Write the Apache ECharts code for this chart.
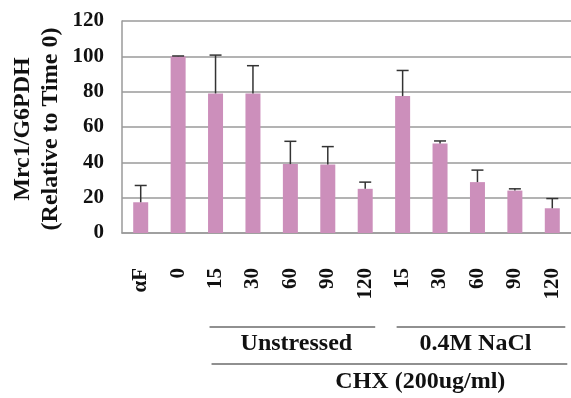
<!DOCTYPE html>
<html><head><meta charset="utf-8">
<script src="https://cdn.jsdelivr.net/npm/echarts@6/dist/echarts.min.js"></script>
<style>html,body{margin:0;padding:0;background:#fff}#c{width:571px;height:398px}</style>
</head><body><div id="c"></div>
<script>
var categories = ['αF','0','15','30','60','90','120','15','30','60','90','120'];
var means = [17.4, 100, 79, 79, 39, 38.8, 25, 77.5, 50.6, 28.8, 24, 14];
var errTops = [26.9, 100.2, 100.7, 94.7, 51.9, 48.9, 28.8, 92, 52.1, 35.6, 25, 19.5];
var yTicks = {min:0, max:120, interval:20};

var font = '"Liberation Serif", "Times New Roman", serif';
var chart = echarts.init(document.getElementById('c'));
var errData = means.map(function(m,i){ return [i, m, errTops[i]]; });

chart.setOption({
  animation:false,
  grid:{left:122, top:21, width:452, height:212},
  xAxis:{type:'category', data:categories,
    axisLine:{show:true, lineStyle:{color:'#9a9a9a', width:1.5}},
    axisTick:{show:false},
    axisLabel:{rotate:90, margin:35, fontFamily:font, fontWeight:'bold', fontSize:21, color:'#111', interval:0}
  },
  yAxis:{type:'value', min:yTicks.min, max:yTicks.max, interval:yTicks.interval,
    axisLine:{show:true, lineStyle:{color:'#9a9a9a', width:1.5}},
    axisTick:{show:false},
    splitLine:{lineStyle:{color:'#9a9a9a', width:1.5}},
    axisLabel:{margin:18, fontFamily:font, fontWeight:'bold', fontSize:21, color:'#111'}
  },
  series:[
    {type:'bar', data:means, barWidth:15, itemStyle:{color:'#cc8fbb'}},
    {type:'custom', data:errData, z:10,
      renderItem:function(params, api){
        var x = api.value(0);
        var p0 = api.coord([x, api.value(1)]);
        var p1 = api.coord([x, api.value(2)]);
        var hw = 6;
        var st = {stroke:'#333', lineWidth:1.5};
        return {type:'group', children:[
          {type:'line', shape:{x1:p0[0],y1:p0[1],x2:p1[0],y2:p1[1]}, style:st},
          {type:'line', shape:{x1:p1[0]-hw,y1:p1[1],x2:p1[0]+hw,y2:p1[1]}, style:st}
        ]};
      }
    }
  ]
});

function px(i){ return chart.convertToPixel({xAxisIndex:0}, i); }
var uL = px(2)-6, uR = px(6)+10, nL = px(7)-6, nR = px(11)+13;
var tf = {fontFamily:font, fontWeight:'bold', fontSize:24, fill:'#111', textAlign:'center', textVerticalAlign:'middle'};
chart.setOption({graphic:[
  {type:'text', x:37, y:129, rotation:Math.PI/2, style:Object.assign({}, tf, {text:'Mrc1/G6PDH\n(Relative to Time 0)', fontSize:24, lineHeight:28})},
  {type:'line', shape:{x1:uL,y1:327,x2:uR,y2:327}, style:{stroke:'#222', lineWidth:1.2}},
  {type:'line', shape:{x1:nL,y1:327,x2:nR,y2:327}, style:{stroke:'#222', lineWidth:1.2}},
  {type:'text', x:px(4)+6, y:344, style:Object.assign({}, tf, {text:'Unstressed'})},
  {type:'text', x:px(9)-2, y:344, style:Object.assign({}, tf, {text:'0.4M NaCl'})},
  {type:'line', shape:{x1:uL+2,y1:364,x2:nR+2,y2:364}, style:{stroke:'#222', lineWidth:1.2}},
  {type:'text', x:(px(7)+px(8))/2-1, y:382, style:Object.assign({}, tf, {text:'CHX (200ug/ml)'})}
]});
</script></body></html>
